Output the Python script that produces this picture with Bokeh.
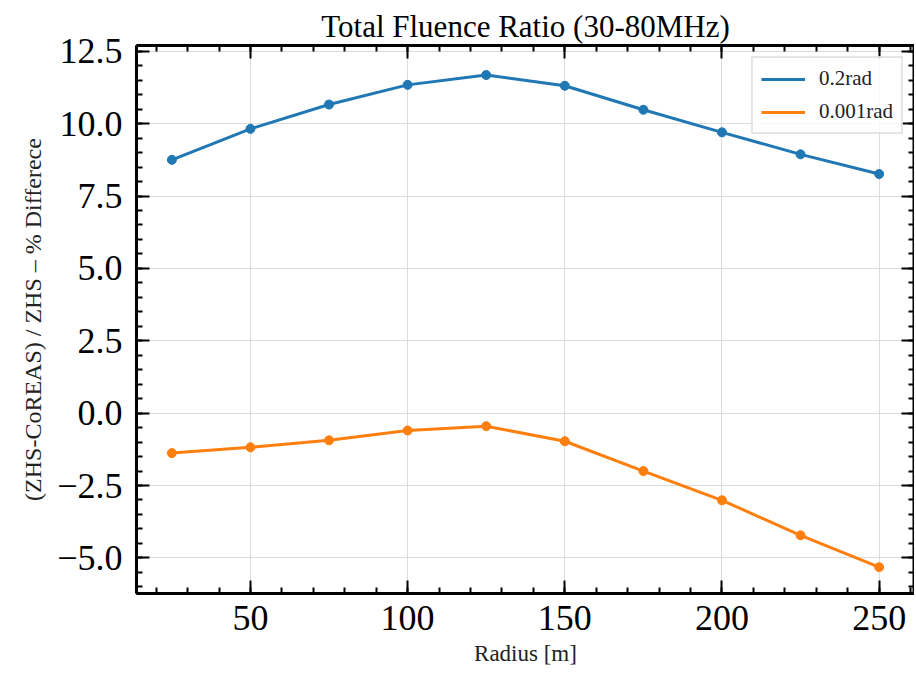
from bokeh.plotting import figure
from bokeh.models import (Range1d, LinearAxis, SingleIntervalTicker, CustomJSTickFormatter,
                          Legend, LegendItem, ColumnDataSource, Grid)
from bokeh.embed import file_html
from bokeh.resources import INLINE

radius = [25, 50, 75, 100, 125, 150, 175, 200, 225, 250]
ratio_02rad = [8.75, 9.82, 10.66, 11.34, 11.68, 11.31, 10.48, 9.70, 8.94, 8.26]
ratio_0001rad = [-1.38, -1.18, -0.94, -0.60, -0.45, -0.97, -2.00, -3.01, -4.22, -5.32]
series_labels = ["0.2rad", "0.001rad"]
title_text = "Total Fluence Ratio (30-80MHz)"
x_label = "Radius [m]"
y_label = "(ZHS-CoREAS) / ZHS \u2013 % Differece"

FONT = "Liberation Serif"
BLUE = "#1f77b4"
ORANGE = "#ff7f0e"

p = figure(width=914, height=672, output_backend="svg", toolbar_location=None,
           x_range=Range1d(13.75, 261.25), y_range=Range1d(-6.23, 12.70),
           x_axis_type=None, y_axis_type=None,
           min_border_left=136, min_border_right=0, min_border_top=45, min_border_bottom=79)

p.title.text = title_text
p.title.align = "center"
p.title.text_font = FONT
p.title.text_font_size = "31px"
p.title.text_font_style = "normal"
p.title.text_color = "black"
p.title.standoff = 4

num_fmt = CustomJSTickFormatter(code="""
    const s = Math.abs(tick).toFixed(1);
    return (tick < -1e-9 ? '\u2212' : '') + s;
""")
int_fmt = CustomJSTickFormatter(code="return String(Math.round(tick));")
blank_fmt = CustomJSTickFormatter(code="return '';")

def style_axis(ax, show_labels):
    ax.axis_line_width = 3
    ax.axis_line_color = "black"
    ax.major_tick_in = 13
    ax.major_tick_out = 0
    ax.minor_tick_in = 6
    ax.minor_tick_out = 0
    ax.major_tick_line_width = 2
    ax.minor_tick_line_width = 2
    ax.major_tick_line_color = "black"
    ax.minor_tick_line_color = "black"
    if show_labels:
        ax.major_label_text_font = FONT
        ax.major_label_text_font_size = "36px"
        ax.major_label_text_color = "black"
        ax.axis_label_text_font = FONT
        ax.axis_label_text_font_style = "normal"
        ax.axis_label_text_color = "#222222"
    else:
        ax.major_label_text_font_size = "0px"
        ax.major_label_standoff = 0

xt = SingleIntervalTicker(interval=50, num_minor_ticks=5)
yt = SingleIntervalTicker(interval=2.5, num_minor_ticks=5)

xb = LinearAxis(ticker=xt, formatter=int_fmt, axis_label=x_label)
style_axis(xb, True)
xb.axis_label_text_font_size = "23px"
xb.major_label_standoff = 12
xb.axis_label_standoff = 8
p.add_layout(xb, "below")

yl = LinearAxis(ticker=yt, formatter=num_fmt, axis_label=y_label)
style_axis(yl, True)
yl.axis_label_text_font_size = "24px"
yl.major_label_standoff = 14
yl.axis_label_standoff = 8
p.add_layout(yl, "left")

xtop = LinearAxis(ticker=SingleIntervalTicker(interval=50, num_minor_ticks=5), formatter=blank_fmt)
style_axis(xtop, False)
p.add_layout(xtop, "above")

yr = LinearAxis(ticker=SingleIntervalTicker(interval=2.5, num_minor_ticks=5), formatter=blank_fmt)
style_axis(yr, False)
p.add_layout(yr, "right")

p.add_layout(Grid(dimension=0, ticker=xt, grid_line_color="#dcdcdc", grid_line_width=1))
p.add_layout(Grid(dimension=1, ticker=yt, grid_line_color="#dcdcdc", grid_line_width=1))

p.outline_line_color = "black"
p.outline_line_width = 2

src = ColumnDataSource(dict(r=radius, a=ratio_02rad, b=ratio_0001rad))
l1 = p.line("r", "a", source=src, line_color=BLUE, line_width=3)
p.scatter("r", "a", source=src, size=9, fill_color=BLUE, line_color=BLUE)
l2 = p.line("r", "b", source=src, line_color=ORANGE, line_width=3)
p.scatter("r", "b", source=src, size=9, fill_color=ORANGE, line_color=ORANGE)

legend = Legend(items=[LegendItem(label=series_labels[0], renderers=[l1]),
                       LegendItem(label=series_labels[1], renderers=[l2])],
                location="top_right", margin=11, padding=8, spacing=8,
                glyph_width=44, glyph_height=20, label_height=20, label_standoff=14,
                label_text_font=FONT, label_text_font_size="21px", label_text_color="#222222",
                border_line_color="#cccccc", border_line_width=2,
                background_fill_color="white", background_fill_alpha=0.8)
p.add_layout(legend, "center")

open("out.html", "w").write(file_html(p, INLINE))
